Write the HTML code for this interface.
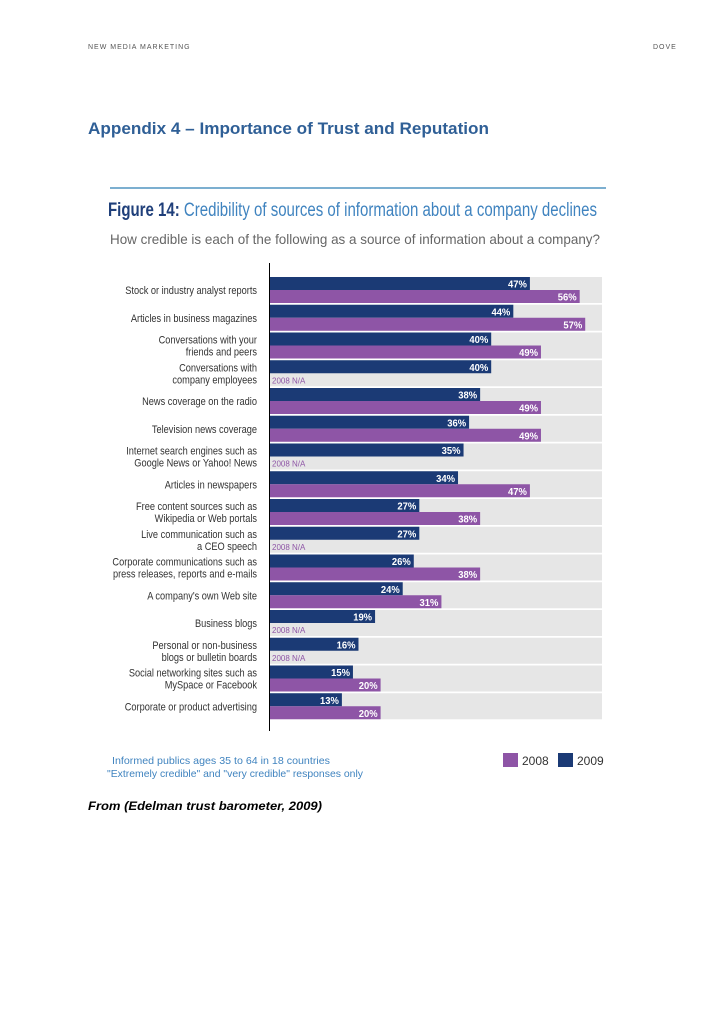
<!DOCTYPE html>
<html><head><meta charset="utf-8"><style>
body{margin:0;width:728px;height:1030px;background:#fff;position:relative;font-family:"Liberation Sans",sans-serif;overflow:hidden}
.abs{position:absolute}
</style></head><body>
<div class="abs" style="left:88px;top:44px;font-size:7px;letter-spacing:1px;color:#555">NEW MEDIA MARKETING</div>
<div class="abs" style="left:653px;top:44px;font-size:7px;letter-spacing:1px;color:#555">DOVE</div>
<svg class="abs" style="left:0;top:0" width="728" height="1030">
<text x="88" y="134" font-size="17" font-weight="bold" fill="#2f5f96" textLength="401" lengthAdjust="spacingAndGlyphs">Appendix 4 – Importance of Trust and Reputation</text>
<text x="88" y="810" font-size="12" font-weight="bold" font-style="italic" fill="#000" textLength="234" lengthAdjust="spacingAndGlyphs">From (Edelman trust barometer, 2009)</text>
<g id="chart"></g>
</svg>
<script>
const categories=[["Stock or industry analyst reports"],["Articles in business magazines"],["Conversations with your","friends and peers"],["Conversations with","company employees"],["News coverage on the radio"],["Television news coverage"],["Internet search engines such as","Google News or Yahoo! News"],["Articles in newspapers"],["Free content sources such as","Wikipedia or Web portals"],["Live communication such as","a CEO speech"],["Corporate communications such as","press releases, reports and e-mails"],["A company's own Web site"],["Business blogs"],["Personal or non-business","blogs or bulletin boards"],["Social networking sites such as","MySpace or Facebook"],["Corporate or product advertising"]];
const values2009=[47,44,40,40,38,36,35,34,27,27,26,24,19,16,15,13];
const values2008=[56,57,49,null,49,49,null,47,38,null,38,31,null,null,20,20];
const NS="http://www.w3.org/2000/svg";
const g=document.getElementById('chart');
const x0=270, pxPer=5.53, rowTop=277, rowH=27.75, bandW=332;
const xs=v=>x0+v*pxPer;
function el(t,a,p){const e=document.createElementNS(NS,t);for(const k in a)e.setAttribute(k,a[k]);(p||g).appendChild(e);return e;}
let e;
e=el('line',{x1:110,y1:188,x2:606,y2:188,stroke:'#2d7fb5','stroke-width':1.2});


e=el('text',{x:108,y:216,'font-size':19,fill:'#3f83bf',textLength:489,lengthAdjust:'spacingAndGlyphs'});
e.innerHTML='<tspan font-weight="bold" fill="#1f3f7a">Figure 14:</tspan> Credibility of sources of information about a company declines';


e=el('text',{x:110,y:244,'font-size':14,fill:'#666',textLength:490,lengthAdjust:'spacingAndGlyphs'});
e.textContent='How credible is each of the following as a source of information about a company?';


categories.forEach((c,i)=>{
  const t=rowTop+i*rowH;
  let r=el('rect',{x:x0,y:t,width:bandW,height:26,fill:'#e6e6e6'});
  
  
  const cy=t+13;
  c.forEach((line,j)=>{
    const y=c.length==1?cy+4:cy-2+j*12;
    const tx=el('text',{x:0,y:0,'font-size':11,fill:'#333','text-anchor':'end',transform:`translate(257,${y}) scale(0.84,1)`});
    tx.textContent=line;
    
    
  });
  const v9=values2009[i];
  r=el('rect',{x:x0,y:t,width:xs(v9)-x0,height:13,fill:'#1b3a75'});
  
  
  let tv=el('text',{x:0,y:0,'font-size':10.5,'font-weight':'bold',fill:'#fff','text-anchor':'end',transform:`translate(${xs(v9)-3},${t+10.5}) scale(0.9,1)`});
  tv.textContent=v9+'%';
  
  
  const v8=values2008[i];
  if(v8!=null){
    r=el('rect',{x:x0,y:t+13,width:xs(v8)-x0,height:13,fill:'#8e55a6'});
    
    
    tv=el('text',{x:0,y:0,'font-size':10.5,'font-weight':'bold',fill:'#fff','text-anchor':'end',transform:`translate(${xs(v8)-3},${t+23.5}) scale(0.9,1)`});
    tv.textContent=v8+'%';
    
    
  } else {
    tv=el('text',{x:272,y:t+23,'font-size':8,fill:'#8e55a6'});
    tv.textContent='2008 N/A';
    
    
  }
});
e=el('line',{x1:269.5,y1:263,x2:269.5,y2:731,stroke:'#000','stroke-width':1});


e=el('text',{x:112,y:764,'font-size':10.5,fill:'#3f83bf',textLength:218,lengthAdjust:'spacingAndGlyphs'});
e.textContent='Informed publics ages 35 to 64 in 18 countries';


e=el('text',{x:107,y:777,'font-size':10.5,fill:'#3f83bf',textLength:256,lengthAdjust:'spacingAndGlyphs'});
e.textContent='"Extremely credible" and "very credible" responses only';


e=el('rect',{x:503,y:753,width:15,height:14,fill:'#8e55a6'});


e=el('text',{x:522,y:765,'font-size':12,fill:'#333'});e.textContent='2008';


e=el('rect',{x:558,y:753,width:15,height:14,fill:'#1b3a75'});


e=el('text',{x:577,y:765,'font-size':12,fill:'#333'});e.textContent='2009';


</script>
</body></html>
